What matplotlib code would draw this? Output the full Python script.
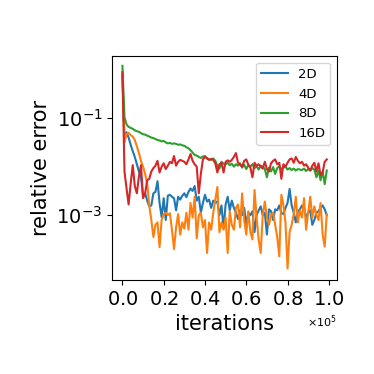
import numpy as np
import matplotlib
matplotlib.use("Agg")
import matplotlib.pyplot as plt

# iterations (x axis), one sample every 1000 iterations
iterations = list(range(0, 100000, 1000))

# log10 of the relative error
log_err_2d = [-0.10, -1.45, -1.29, -1.40, -1.55, -1.68, -1.80, -1.95, -2.10, -2.22,
              -2.60, -2.55, -2.70, -2.82, -2.80, -2.55, -2.52, -2.30, -2.75, -3.04,
              -2.65, -3.10, -2.60, -2.58, -2.62, -2.65, -2.90, -2.62, -2.68, -2.60,
              -2.55, -2.63, -2.52, -2.45, -2.50, -2.40, -2.70, -2.62, -2.95, -2.75,
              -2.58, -2.72, -2.68, -2.85, -2.70, -2.74, -2.72, -3.00, -2.80, -3.28,
              -2.78, -2.62, -2.90, -2.70, -2.85, -2.95, -3.08, -2.90, -3.00, -2.85,
              -3.20, -2.95, -3.00, -2.92, -3.35, -3.00, -2.90, -2.82, -3.00, -2.95,
              -3.40, -2.88, -2.92, -3.10, -2.88, -2.90, -2.80, -2.95, -2.98, -2.85,
              -2.75, -2.46, -2.80, -2.95, -3.15, -2.92, -2.88, -2.80, -2.85, -3.05,
              -2.95, -2.90, -3.20, -3.10, -2.95, -2.92, -2.85, -2.80, -2.88, -3.00]

log_err_4d = [-0.10, -1.50, -1.33, -1.30, -1.35, -1.38, -1.45, -1.58, -1.72, -1.88,
              -2.00, -2.15, -2.35, -2.80, -3.10, -3.45, -3.20, -3.15, -3.66, -3.10,
              -2.98, -2.95, -3.00, -2.96, -3.30, -3.70, -3.25, -2.98, -3.40, -3.15,
              -3.28, -2.95, -3.30, -2.75, -3.05, -2.62, -3.48, -3.00, -2.95, -3.25,
              -3.10, -3.78, -3.15, -3.30, -2.95, -2.68, -2.42, -3.35, -3.15, -3.30,
              -3.05, -3.78, -2.92, -3.20, -3.30, -2.85, -2.78, -3.25, -2.55, -3.10,
              -3.40, -2.92, -3.35, -3.50, -2.48, -3.05, -3.50, -3.78, -3.00, -2.72,
              -3.05, -3.20, -3.00, -2.95, -3.20, -3.45, -3.85, -2.58, -2.80, -3.15,
              -4.10, -3.35, -3.20, -2.98, -2.62, -3.15, -2.90, -3.05, -2.65, -3.30,
              -2.95, -2.62, -3.05, -2.82, -3.00, -3.10, -2.75, -3.40, -3.65, -2.98]

log_err_8d = [0.08, -0.98, -1.13, -1.18, -1.20, -1.22, -1.25, -1.27, -1.28, -1.31,
              -1.33, -1.34, -1.36, -1.38, -1.40, -1.41, -1.43, -1.45, -1.46, -1.48,
              -1.47, -1.50, -1.52, -1.51, -1.53, -1.52, -1.53, -1.55, -1.54, -1.56,
              -1.57, -1.60, -1.62, -1.66, -1.71, -1.76, -1.77, -1.80, -1.82, -1.79,
              -1.78, -1.84, -1.85, -1.86, -1.83, -1.88, -1.98, -2.04, -1.90, -1.94,
              -1.95, -1.92, -1.97, -1.94, -2.00, -1.95, -1.98, -1.93, -2.02, -1.96,
              -2.05, -1.97, -2.00, -1.95, -2.03, -1.99, -2.06, -1.98, -2.00, -2.05,
              -2.22, -2.02, -2.10, -2.01, -2.15, -2.03, -1.99, -2.05, -2.02, -2.00,
              -2.06, -2.03, -2.07, -2.04, -2.08, -2.05, -2.06, -2.07, -2.04, -2.09,
              -2.05, -2.08, -2.03, -2.06, -2.22, -2.08, -2.28, -2.10, -2.36, -2.08]

log_err_16d = [-0.05, -2.10, -2.45, -2.78, -2.35, -1.97, -2.40, -2.55, -2.20, -1.97,
               -2.65, -2.55, -2.28, -2.25, -2.10, -2.03, -1.98, -1.88, -2.12, -2.00,
               -1.93, -2.05, -1.98, -1.90, -1.93, -1.78, -1.98, -1.90, -1.86, -1.88,
               -1.90, -1.95, -1.85, -1.74, -1.88, -1.95, -2.00, -2.55, -2.15, -1.85,
               -1.80, -1.82, -1.86, -1.84, -1.86, -1.93, -2.12, -1.95, -1.92, -2.12,
               -1.90, -1.87, -1.90, -1.86, -1.80, -1.72, -1.92, -1.96, -2.00, -1.88,
               -1.85, -1.96, -2.02, -2.22, -1.92, -1.98, -1.95, -2.00, -2.04, -1.90,
               -2.05, -2.10, -1.93, -1.88, -1.85, -1.95, -1.92, -2.25, -1.95, -2.00,
               -1.92, -1.85, -1.83, -1.92, -1.80, -1.88, -1.93, -1.90, -1.98, -1.95,
               -2.02, -2.08, -1.98, -1.92, -2.10, -1.93, -2.18, -2.12, -1.90, -1.85]

labels = ['2D', '4D', '8D', '16D']
series = [log_err_2d, log_err_4d, log_err_8d, log_err_16d]

fig = plt.figure(figsize=(3.74, 3.74), dpi=100)
ax = fig.add_axes([0.30, 0.251, 0.601, 0.599])

for lab, vals in zip(labels, series):
    ax.plot(iterations, 10 ** np.array(vals), label=lab, linewidth=1.5)

ax.set_yscale('log')
ax.set_ylim(10 ** -4.34, 10 ** 0.28)
ax.set_yticks([1e-3, 1e-1])
ax.yaxis.set_minor_locator(matplotlib.ticker.NullLocator())

ax.set_xticks([0, 20000, 40000, 60000, 80000, 100000])
ax.ticklabel_format(axis='x', style='sci', scilimits=(0, 0), useMathText=True)
ax.xaxis.get_offset_text().set_fontsize(8)

ax.tick_params(labelsize=14)
ax.set_xlabel('iterations', fontsize=15)
ax.set_ylabel('relative error', fontsize=15)
ax.legend(loc='upper right', fontsize=9.5)

fig.savefig('out.png', dpi=100)
